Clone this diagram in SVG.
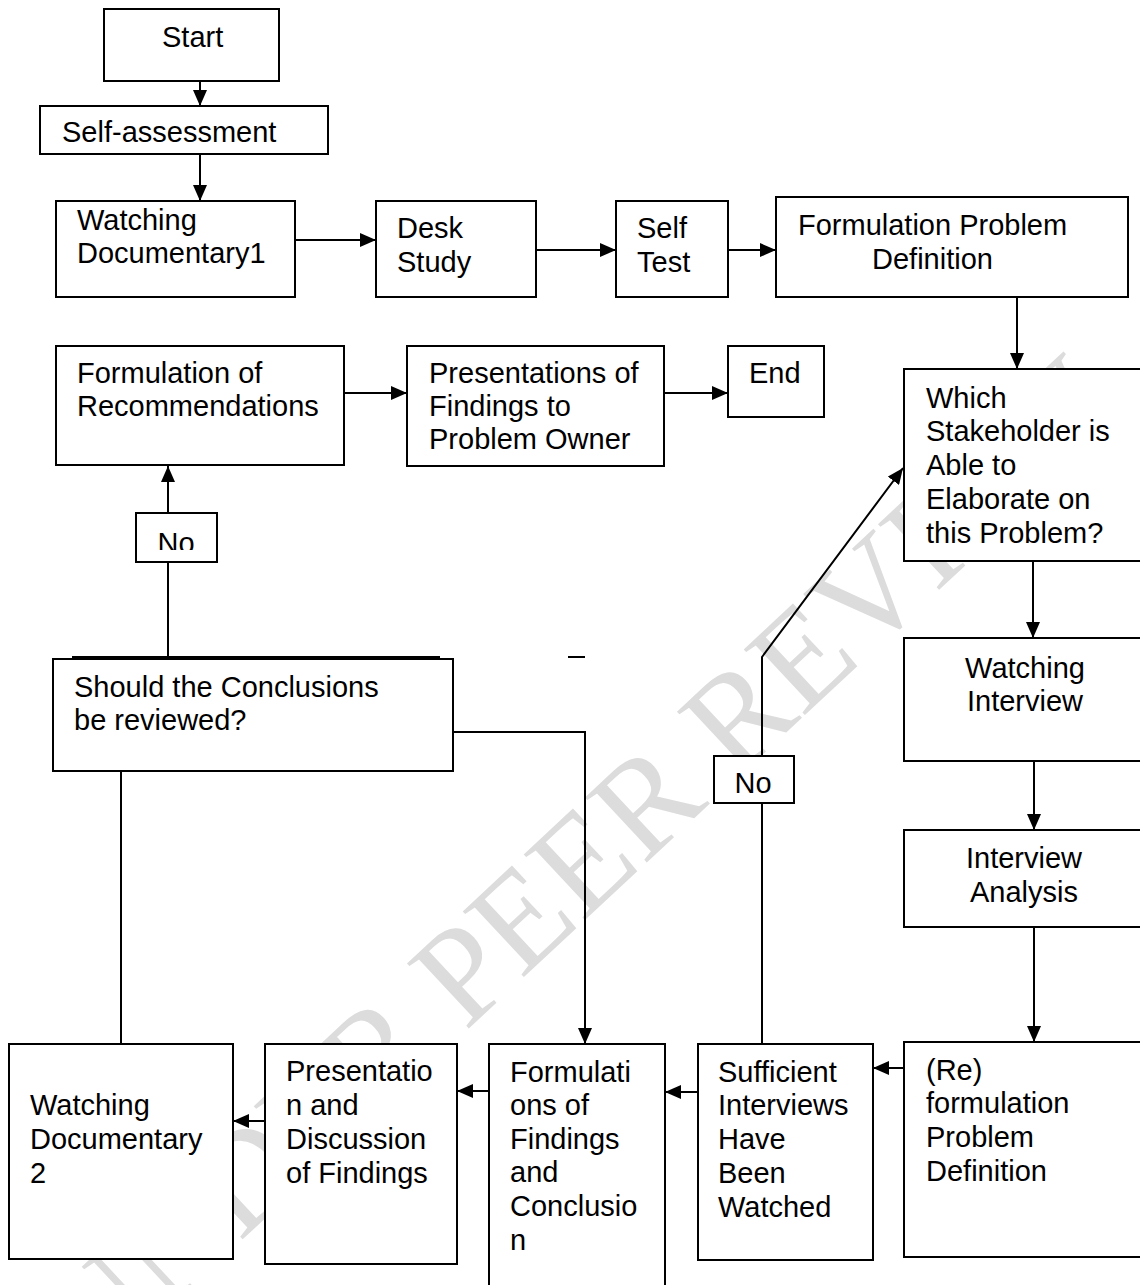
<svg xmlns="http://www.w3.org/2000/svg" width="1140" height="1285" viewBox="0 0 1140 1285">
<style>
.box{fill:#fff;stroke:#000;stroke-width:2}
.t{font-family:"Liberation Sans",Arial,sans-serif;font-size:29px;fill:#000}
.c{text-anchor:middle}
.ln{fill:none;stroke:#000;stroke-width:2}
.wm{font-family:"Liberation Serif","Times New Roman",serif;font-size:137px;fill:#dcdcdc}
</style>
<defs>
<marker id="ah" markerUnits="userSpaceOnUse" markerWidth="16" markerHeight="14" refX="16" refY="7" orient="auto">
<path d="M0,0 L16,7 L0,14 z" fill="#000"/>
</marker>
<clipPath id="noclip"><rect x="136" y="513" width="81" height="37"/></clipPath>
</defs>
<rect width="1140" height="1285" fill="#fff"/>
<text class="wm" transform="translate(95,1377) rotate(-43)">UNDER PEER REVIEW</text>

<g id="connectors">
<line class="ln" x1="200" y1="81" x2="200" y2="106" marker-end="url(#ah)"/>
<line class="ln" x1="200" y1="154" x2="200" y2="201" marker-end="url(#ah)"/>
<line class="ln" x1="295" y1="240" x2="376" y2="240" marker-end="url(#ah)"/>
<line class="ln" x1="536" y1="250" x2="616" y2="250" marker-end="url(#ah)"/>
<line class="ln" x1="728" y1="250" x2="776" y2="250" marker-end="url(#ah)"/>
<line class="ln" x1="1017" y1="297" x2="1017" y2="369" marker-end="url(#ah)"/>
<line class="ln" x1="344" y1="393" x2="407" y2="393" marker-end="url(#ah)"/>
<line class="ln" x1="664" y1="393" x2="728" y2="393" marker-end="url(#ah)"/>
<line class="ln" x1="168" y1="657" x2="168" y2="466" marker-end="url(#ah)"/>
<polyline class="ln" points="453,732 585,732 585,1044" marker-end="url(#ah)"/>
<line class="ln" x1="121" y1="771" x2="121" y2="1044"/>
<polyline class="ln" points="762,1044 762,657 903,468" marker-end="url(#ah)"/>
<line class="ln" x1="1033" y1="561" x2="1033" y2="638" marker-end="url(#ah)"/>
<line class="ln" x1="1034" y1="761" x2="1034" y2="830" marker-end="url(#ah)"/>
<line class="ln" x1="1034" y1="927" x2="1034" y2="1042" marker-end="url(#ah)"/>
<line class="ln" x1="904" y1="1068" x2="873" y2="1068" marker-end="url(#ah)"/>
<line class="ln" x1="698" y1="1092" x2="665" y2="1092" marker-end="url(#ah)"/>
<line class="ln" x1="489" y1="1091" x2="457" y2="1091" marker-end="url(#ah)"/>
<line class="ln" x1="265" y1="1121" x2="233" y2="1121" marker-end="url(#ah)"/>
<line class="ln" x1="568" y1="657" x2="585" y2="657"/>
<line class="ln" x1="72" y1="657" x2="440" y2="657"/>
</g>

<g id="start"><rect class="box" x="104" y="9" width="175" height="72"/><text class="t" x="162" y="47">Start</text></g>
<g id="self-assessment"><rect class="box" x="40" y="106" width="288" height="48"/><text class="t" x="62" y="142">Self-assessment</text></g>
<g id="watching-doc1"><rect class="box" x="56" y="201" width="239" height="96"/><text class="t"><tspan x="77" y="230">Watching</tspan><tspan x="77" y="263">Documentary1</tspan></text></g>
<g id="desk-study"><rect class="box" x="376" y="201" width="160" height="96"/><text class="t"><tspan x="397" y="238">Desk</tspan><tspan x="397" y="272">Study</tspan></text></g>
<g id="self-test"><rect class="box" x="616" y="201" width="112" height="96"/><text class="t"><tspan x="637" y="238">Self</tspan><tspan x="637" y="272">Test</tspan></text></g>
<g id="formulation-problem"><rect class="box" x="776" y="197" width="352" height="100"/><text class="t"><tspan x="798" y="235">Formulation Problem</tspan><tspan x="872" y="269">Definition</tspan></text></g>
<g id="formulation-recommendations"><rect class="box" x="56" y="346" width="288" height="119"/><text class="t"><tspan x="77" y="383">Formulation of</tspan><tspan x="77" y="416">Recommendations</tspan></text></g>
<g id="presentations-findings"><rect class="box" x="407" y="346" width="257" height="120"/><text class="t"><tspan x="429" y="383">Presentations of</tspan><tspan x="429" y="416">Findings to</tspan><tspan x="429" y="449">Problem Owner</tspan></text></g>
<g id="end"><rect class="box" x="728" y="346" width="96" height="71"/><text class="t" x="749" y="383">End</text></g>
<g id="which-stakeholder"><rect class="box" x="904" y="369" width="240" height="192"/><text class="t"><tspan x="926" y="408">Which</tspan><tspan x="926" y="441">Stakeholder is</tspan><tspan x="926" y="475">Able to</tspan><tspan x="926" y="509">Elaborate on</tspan><tspan x="926" y="543">this Problem?</tspan></text></g>
<g id="no-1"><rect class="box" x="136" y="513" width="81" height="49"/><text class="t c" x="176" y="553" clip-path="url(#noclip)">No</text></g>
<g id="should-review"><rect class="box" x="53" y="659" width="400" height="112"/><text class="t"><tspan x="74" y="697">Should the Conclusions</tspan><tspan x="74" y="730">be reviewed?</tspan></text></g>
<g id="watching-interview"><rect class="box" x="904" y="638" width="240" height="123"/><text class="t c"><tspan x="1025" y="678">Watching</tspan><tspan x="1025" y="711">Interview</tspan></text></g>
<g id="no-2"><rect class="box" x="714" y="756" width="80" height="47"/><text class="t c" x="753" y="793">No</text></g>
<g id="interview-analysis"><rect class="box" x="904" y="830" width="240" height="97"/><text class="t c"><tspan x="1024" y="868">Interview</tspan><tspan x="1024" y="902">Analysis</tspan></text></g>
<g id="reformulation"><rect class="box" x="904" y="1042" width="240" height="215"/><text class="t"><tspan x="926" y="1080">(Re)</tspan><tspan x="926" y="1113">formulation</tspan><tspan x="926" y="1147">Problem</tspan><tspan x="926" y="1181">Definition</tspan></text></g>
<g id="sufficient-interviews"><rect class="box" x="698" y="1044" width="175" height="216"/><text class="t"><tspan x="718" y="1082">Sufficient</tspan><tspan x="718" y="1115">Interviews</tspan><tspan x="718" y="1149">Have</tspan><tspan x="718" y="1183">Been</tspan><tspan x="718" y="1217">Watched</tspan></text></g>
<g id="formulations-findings"><rect class="box" x="489" y="1044" width="176" height="260"/><text class="t"><tspan x="510" y="1082">Formulati</tspan><tspan x="510" y="1115">ons of</tspan><tspan x="510" y="1149">Findings</tspan><tspan x="510" y="1182">and</tspan><tspan x="510" y="1216">Conclusio</tspan><tspan x="510" y="1250">n</tspan></text></g>
<g id="presentation-discussion"><rect class="box" x="265" y="1044" width="192" height="220"/><text class="t"><tspan x="286" y="1081">Presentatio</tspan><tspan x="286" y="1115">n and</tspan><tspan x="286" y="1149">Discussion</tspan><tspan x="286" y="1183">of Findings</tspan></text></g>
<g id="watching-doc2"><rect class="box" x="9" y="1044" width="224" height="215"/><text class="t"><tspan x="30" y="1115">Watching</tspan><tspan x="30" y="1149">Documentary</tspan><tspan x="30" y="1183">2</tspan></text></g>
</svg>
